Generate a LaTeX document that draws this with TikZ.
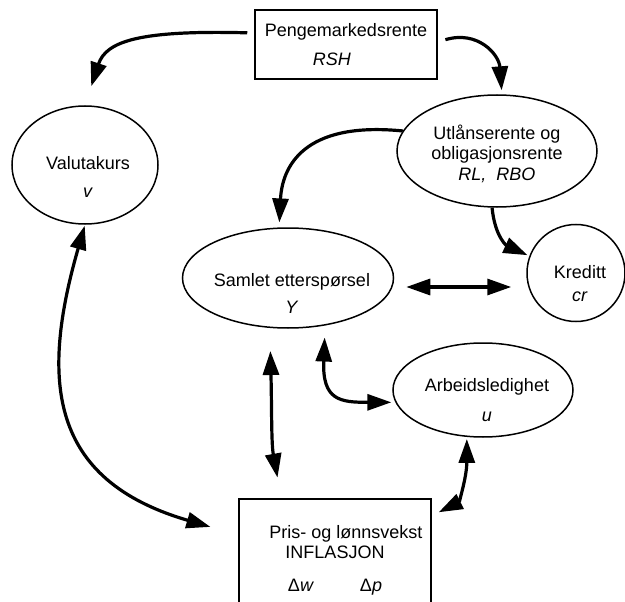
\documentclass[tikz,border=0pt]{standalone}
\usepackage{fontspec}
\setmainfont{Liberation Sans}
\usetikzlibrary{shapes.geometric,arrows.meta}
\tikzset{%
  boble/.style = {shape=ellipse, draw, line width=1.5pt, inner sep=0pt},%
  boks/.style  = {shape=rectangle, draw, line width=1.5pt, align=center,%
                  font=\fontsize{18}{20}\selectfont},%
  tekst/.style = {align=center, inner sep=0pt,%
                  font=\fontsize{18}{20}\selectfont},%
  pil/.style   = {line width=3.2pt, -{Triangle[length=24pt,width=16pt]}},%
  dpil/.style  = {line width=3.2pt,%
                  {Triangle[length=24pt,width=16pt]}-{Triangle[length=24pt,width=16pt]}}%
}

\begin{document}
\begin{tikzpicture}[x=1pt,y=-1pt]
	\useasboundingbox (0,0) rectangle (625,602);
	\node[boks, minimum width=182pt, minimum height=69pt] (rente) at (346,44.5)
		{Pengemarkedsrente\\[9pt]\hspace*{-28pt}\textit{RSH}};
	\node[boks, minimum width=192pt, minimum height=122pt] (pris) at (335,560)
		{\hspace*{22pt}Pris- og lønnsvekst\\INFLASJON\\[13pt]Δ\textit{w}\hspace{46pt}Δ\textit{p}};
	\node[boble, minimum width=146pt, minimum height=118pt] (valuta) at (85,165) {};
	\node[tekst] (valutatekst) at (88,177) {Valutakurs\\[7.5pt]\textit{v}};
	\node[boble, minimum width=200pt, minimum height=112pt] (utlaan) at (497,151) {};
	\node[tekst] (utlaantekst) at (497,154)
		{Utlånserente og\\obligasjonsrente\\[1pt]\textit{RL,\ \ RBO}};
	\node[boble, minimum width=211pt, minimum height=100pt] (samlet) at (288,278) {};
	\node[tekst] (samlettekst) at (292,293) {Samlet etterspørsel\\[7pt]\textit{Y}};
	\node[boble, minimum width=98pt, minimum height=97pt] (kreditt) at (576,273) {};
	\node[tekst] (kreditttekst) at (580,284) {Kreditt\\[3pt]\textit{cr}};
	\node[boble, minimum width=180pt, minimum height=94pt] (arbeid) at (483,390) {};
	\node[tekst] (arbeidtekst) at (487,400) {Arbeidsledighet\\[10pt]\textit{u}};

	\draw[pil, shorten <=7pt, shorten >=20pt] ([yshift=11.5pt]rente.west)
		.. controls +(-115,-3) and +(21,-64) .. (valuta.north);
	\draw[pil, shorten <=8pt, shorten >=4pt] ([yshift=2.5pt]rente.east)
		.. controls +(40,-12) and +(-3,-40) .. (utlaan.85);
	\draw[pil, shorten >=5pt] (utlaan.168)
		.. controls +(-100,-10) and +(3,-60) .. (samlet.100);
	\draw[pil, shorten >=2pt] (utlaan.265)
		.. controls +(3,30) and +(-22,-10) .. (kreditt.160);
	\draw[dpil, shorten <=12pt, shorten >=15pt] ([yshift=-9pt]samlet.east)
		-- ([yshift=-14pt]kreditt.west);
	\draw[dpil, shorten <=1pt, shorten >=29pt] (valuta.south)
		.. controls +(-45,156) and +(-189,-55) .. ([yshift=25pt]pris.west);
	\draw[dpil, shorten <=23pt, shorten >=21pt] (samlet.250)
		.. controls +(2,80) and +(-10,-55) .. ([xshift=43pt]pris.north west);
	\draw[dpil, shorten <=12pt, shorten >=4pt] (samlet.308)
		.. controls +(-3,75) and +(-55,0) .. (arbeid.188);
	\draw[dpil, shorten <=2pt] (arbeid.251)
		.. controls +(0,40) and +(20,-10) .. ([xshift=7pt,yshift=-14pt]pris.north east);
\end{tikzpicture}
\end{document}
